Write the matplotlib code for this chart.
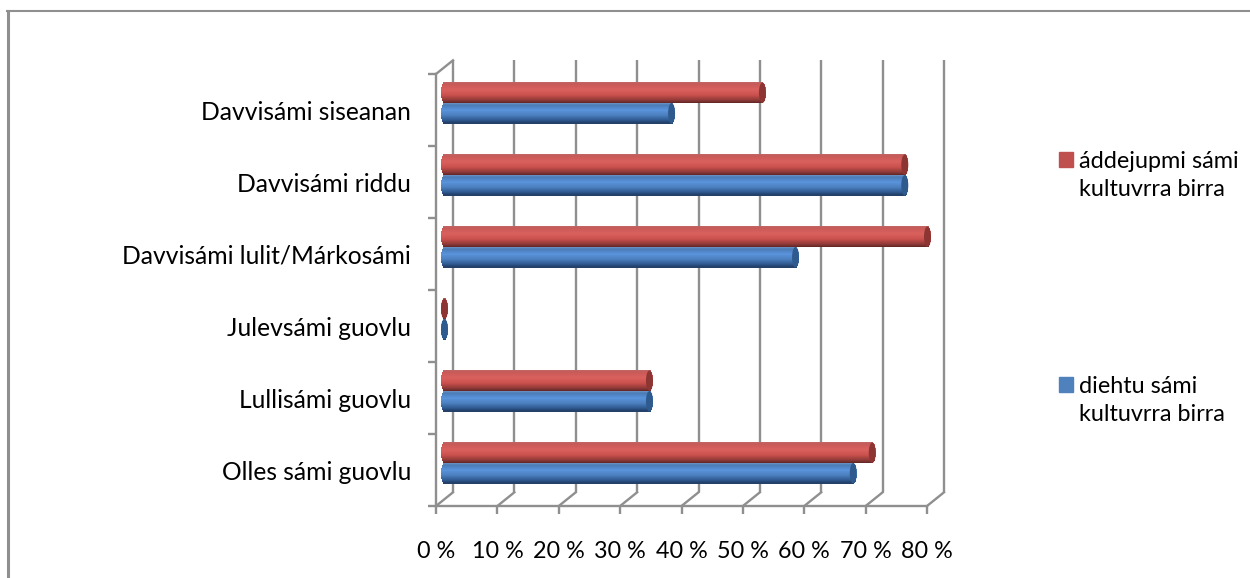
import numpy as np
import matplotlib
matplotlib.use('Agg')
import matplotlib.pyplot as plt
from matplotlib.colors import to_rgb
from matplotlib.lines import Line2D
from matplotlib.patches import Ellipse, Patch

categories = ['Olles sámi guovlu', 'Lullisámi guovlu', 'Julevsámi guovlu',
              'Davvisámi lulit/Márkosámi', 'Davvisámi riddu', 'Davvisámi siseanan']
diehtu = [66.6, 33.4, 0, 57.2, 75, 37]
addejupmi = [69.7, 33.4, 0, 78.7, 75, 51.8]
x_ticks = [0, 10, 20, 30, 40, 50, 60, 70, 80]
x_labels = ['0 %', '10 %', '20 %', '30 %', '40 %', '50 %', '60 %', '70 %', '80 %']
legend_red = 'áddejupmi sámi\nkultuvrra birra'
legend_blue = 'diehtu sámi\nkultuvrra birra'

W, H = 1250, 578
GREY = '#8f8f8f'
DEPTH_X = 2.77    # 3d depth of the floor, in axis units
DEPTH_Y = 0.19
BAR_X = 1.38
BAR_Y = 0.097
BAR_H = 0.285
CAP_R = 0.57
N_STRIPS = 20

plt.rcParams['font.family'] = ['Lato', 'DejaVu Sans']


def gradient(stops, t):
    pos = [s[0] for s in stops]
    rgb = np.array([to_rgb(s[1]) for s in stops])
    return [np.interp(t, pos, rgb[:, i]) for i in range(3)]


RED_STOPS = [(0, '#bd6765'), (0.1, '#c65a57'), (0.35, '#d9605c'),
             (0.6, '#c9504d'), (0.85, '#8f3a38'), (1, '#5f2625')]
BLUE_STOPS = [(0, '#6f94c4'), (0.1, '#4a7ab5'), (0.35, '#5a94dc'),
              (0.6, '#4b80c0'), (0.85, '#2f5a90'), (1, '#203c63')]


def draw_tube(ax, y_top, value, stops, cap_color):
    h = BAR_H / N_STRIPS
    for k in range(N_STRIPS):
        t = (k + 0.5) / N_STRIPS
        s = np.sqrt(1 - (2 * t - 1) ** 2)
        ax.barh(y_top - t * BAR_H, value + 2 * CAP_R * s, left=BAR_X - CAP_R * s,
                height=h * 1.3, color=gradient(stops, t), linewidth=0,
                zorder=3 + k * 0.001, clip_on=False)
    ax.add_patch(Ellipse((BAR_X + value, y_top - BAR_H / 2), 2 * CAP_R, BAR_H,
                         facecolor=cap_color, edgecolor='none', zorder=4, clip_on=False))


def main():
    fig = plt.figure(figsize=(W / 100, H / 100), dpi=100, facecolor='white')
    ax = fig.add_axes([436 / W, 1 - 506 / H, (927 - 436) / W, (506 - 74) / H])
    ax.set_xlim(0, 80)
    ax.set_ylim(-0.5, 5.5)
    ax.set_facecolor('none')

    # outer frame of the chart, only top and left are in the crop
    fig.add_artist(Line2D([7.5 / W, 7.5 / W], [0, 1 - 11 / H], color=GREY, lw=2.2,
                          transform=fig.transFigure))
    fig.add_artist(Line2D([6.5 / W, 1], [1 - 11 / H, 1 - 11 / H], color=GREY, lw=1.5,
                          transform=fig.transFigure))

    for side in ['top', 'right']:
        ax.spines[side].set_visible(False)
    for side in ['left', 'bottom']:
        ax.spines[side].set_color(GREY)
        ax.spines[side].set_linewidth(1.7)

    lw = 1.7
    for x in x_ticks:
        ax.plot([x + DEPTH_X, x + DEPTH_X], [-0.5 + DEPTH_Y, 5.5 + DEPTH_Y], color=GREY,
                lw=lw, zorder=1, clip_on=False, solid_capstyle='butt')
        ax.plot([x, x + DEPTH_X], [-0.5, -0.5 + DEPTH_Y], color=GREY, lw=lw, zorder=1,
                clip_on=False)
    ax.plot([0, DEPTH_X], [5.5, 5.5 + DEPTH_Y], color=GREY, lw=lw, zorder=1, clip_on=False)

    for i in range(len(categories)):
        yc = i + BAR_Y
        draw_tube(ax, yc, diehtu[i], BLUE_STOPS, '#2f5a8e')
        draw_tube(ax, yc + BAR_H, addejupmi[i], RED_STOPS, '#8c3533')

    ax.set_xticks(x_ticks)
    ax.set_xticklabels(x_labels, fontsize=16.8, color='black')
    ax.tick_params(axis='x', length=5.7, width=1.7, color=GREY, pad=19.5)
    ax.set_yticks(np.arange(-0.5, 6, 1))
    ax.set_yticklabels([])
    ax.tick_params(axis='y', length=5.7, width=1.7, color=GREY)
    ax.set_yticks(range(len(categories)), minor=True)
    ax.set_yticklabels(categories, minor=True, fontsize=17.7, color='black')
    ax.tick_params(axis='y', which='minor', length=0, pad=18)

    handles = [Patch(color='#c0504d'), Patch(color='#4f81bd')]
    leg = fig.legend(handles, [legend_red, legend_blue], loc='upper left',
                     bbox_to_anchor=(1059 / W, 1 - 151 / H), frameon=False, borderpad=0,
                     borderaxespad=0, fontsize=16.8, handlelength=0.6, handleheight=0.6,
                     handletextpad=0.25, labelspacing=7.53, labelcolor='black')
    for t in leg.get_texts():
        t.set_linespacing(1.42)
    for p in leg.get_patches():
        p.set_y(p.get_y() + 11.6)

    fig.savefig('out.png', dpi=100)


if __name__ == "__main__":
    main()
